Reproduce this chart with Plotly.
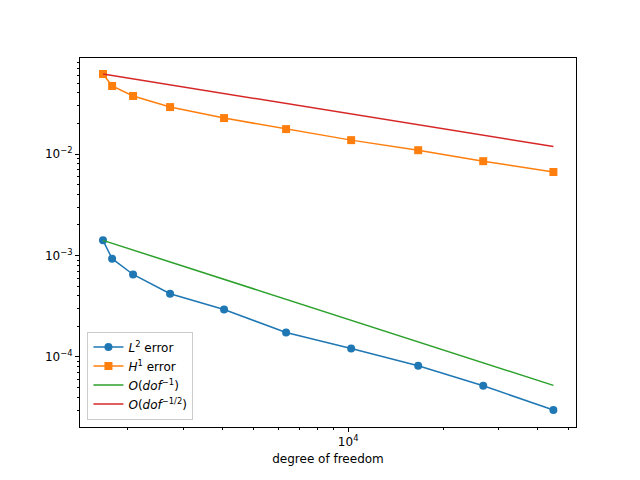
import numpy as np
import plotly.graph_objects as go

# degrees of freedom and errors
dof = [1667, 1782, 2077, 2722, 4038, 6353, 10220, 16680, 26830, 44800]
l2_err = [1.41e-3, 9.3e-4, 6.5e-4, 4.2e-4, 2.94e-4, 1.74e-4, 1.21e-4, 8.2e-5, 5.2e-5, 3.0e-5]
h1_err = [0.0614, 0.0468, 0.0373, 0.0290, 0.0226, 0.0176, 0.0137, 0.0109, 0.0085, 0.00665]

d = np.array(dof, dtype=float)
ref1 = l2_err[0] * d[0] / d
ref_half = h1_err[0] * np.sqrt(d[0] / d)

fig = go.Figure()
fig.add_trace(go.Scatter(x=dof, y=l2_err, mode="lines+markers", name="<i>L</i><sup>2</sup> error",
                         line=dict(color="#1f77b4", width=1.5), marker=dict(size=8, color="#1f77b4")))
fig.add_trace(go.Scatter(x=dof, y=h1_err, mode="lines+markers", name="<i>H</i><sup>1</sup> error",
                         line=dict(color="#ff7f0e", width=1.5),
                         marker=dict(size=8, symbol="square", color="#ff7f0e")))
fig.add_trace(go.Scatter(x=dof, y=ref1, mode="lines", name="<i>O</i>(<i>dof</i><sup>−1</sup>)",
                         line=dict(color="#2ca02c", width=1.5)))
fig.add_trace(go.Scatter(x=dof, y=ref_half, mode="lines", name="<i>O</i>(<i>dof</i><sup>−1/2</sup>)",
                         line=dict(color="#d62728", width=1.5)))

axis_common = dict(type="log", showgrid=False, zeroline=False, showline=True, mirror=True,
                   linecolor="black", linewidth=1, ticks="outside", ticklen=4, tickcolor="black",
                   tickfont=dict(size=12, color="black"),
                   minor=dict(ticks="outside", ticklen=2, tickcolor="black", dtick="D1"))

fig.update_layout(
    width=640, height=480, template="none",
    paper_bgcolor="white", plot_bgcolor="white",
    margin=dict(l=72, r=72, t=50, b=61, pad=0),
    font=dict(family="DejaVu Sans", size=12, color="black"),
    xaxis=dict(axis_common, range=[3.149, 4.723], tickvals=[1e4], ticktext=["10<sup>4</sup>"],
               title=dict(text="degree of freedom", font=dict(size=12), standoff=6)),
    yaxis=dict(axis_common, range=[-4.69, -1.054], tickvals=[1e-4, 1e-3, 1e-2],
               ticktext=["10<sup>−4</sup>", "10<sup>−3</sup>", "10<sup>−2</sup>"]),
    legend=dict(x=0.015, y=0.02, xanchor="left", yanchor="bottom", bordercolor="#cccccc",
                borderwidth=1, bgcolor="rgba(255,255,255,0.8)", font=dict(size=12)),
)

fig.write_html("out.html")
